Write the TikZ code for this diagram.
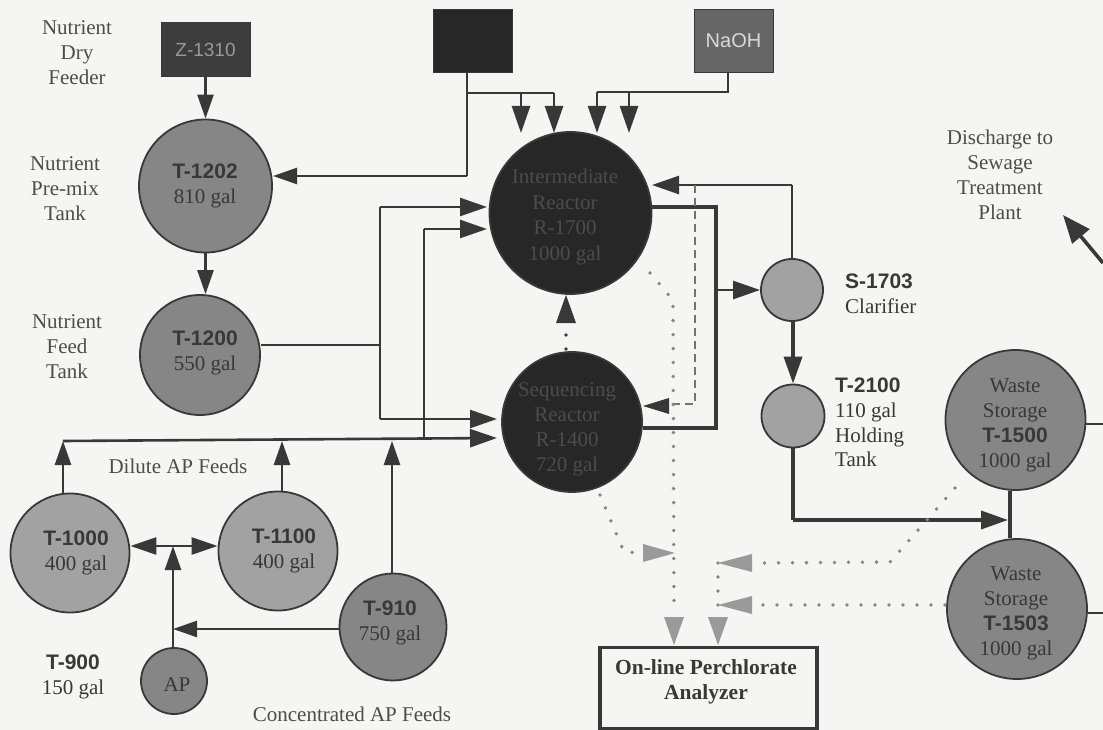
\documentclass[tikz,border=0pt]{standalone}
\usepackage{fontspec}
\setmainfont{Liberation Serif}
\newfontfamily\headfont{Liberation Sans}
\usetikzlibrary{arrows.meta,positioning}
\definecolor{paper}{HTML}{F5F5F3}
\definecolor{ink}{HTML}{383838}
\definecolor{midgray}{HTML}{868686}
\definecolor{lightgray}{HTML}{A2A2A2}
\definecolor{darktank}{HTML}{272727}
\definecolor{sensor}{HTML}{9A9A9A}
\definecolor{sensordot}{HTML}{858585}
\newcommand{\tk}[1]{{\headfont\bfseries\fontsize{21}{25}\selectfont #1}}
\tikzset{
  every node/.style={text=ink},
  tank/.style={circle,draw=ink,line width=1.8pt,inner sep=0pt,fill=lightgray},
  midtank/.style={tank,fill=midgray},
  reactor/.style={tank,fill=darktank},
  feedbox/.style={rectangle,draw=ink,line width=1pt,inner sep=0pt},
  lab/.style={align=center,inner sep=0pt,font=\fontsize{21}{25}\selectfont},
  leftlab/.style={align=left,inner sep=0pt,anchor=west,font=\fontsize{21}{25}\selectfont},
  dimlab/.style={lab,text=black!70},
  pipe/.style={draw=ink,line width=2.6pt},
  heavy/.style={draw=ink,line width=3.6pt},
  hd/.style={-{Triangle[length=27pt,width=18pt]}},
  hdsmall/.style={-{Triangle[length=24pt,width=16pt]}},
  probe/.style={draw=sensordot,line width=3.8pt,line cap=round,dash pattern=on 0pt off 14pt},
  tankdash/.style={draw=black!55,line width=2.6pt,dash pattern=on 8pt off 5pt}
}
\begin{document}
\begin{tikzpicture}[x=1pt,y=-1pt]
\useasboundingbox (0,0) rectangle (1103,730);
\fill[paper] (0,0) rectangle (1103,730);

% tanks
\node[midtank,minimum size=133pt] (t1202) at (205.5,186) {};
\node[midtank,minimum size=120pt] (t1200) at (200,355) {};
\node[reactor,minimum size=162pt] (r1) at (570.5,213) {};
\node[reactor,minimum size=140pt] (r2) at (572,422) {};
\node[tank,minimum size=62pt] (s1703) at (792,290) {};
\node[tank,minimum size=63pt] (t2100) at (793,416) {};
\node[midtank,minimum size=140pt] (t1500) at (1015.5,420) {};
\node[midtank,minimum size=140pt] (t1503) at (1017,609) {};
\node[tank,minimum size=119pt] (t1000) at (70,553) {};
\node[tank,minimum size=119pt] (t1100) at (278,551) {};
\node[midtank,minimum size=107pt] (t910) at (393,627) {};
\node[midtank,minimum size=66pt] (ap) at (174,681) {};

% feeders
\node[feedbox,fill=darktank!90!white,minimum width=89pt,minimum height=54pt,text=black!40,font=\headfont\fontsize{19}{20}\selectfont] (z1310) at (205.5,50) {Z-1310};
\node[feedbox,fill=darktank,minimum width=79pt,minimum height=63pt] (acid) at (472.5,41.5) {};
\node[feedbox,fill=black!60,minimum width=79pt,minimum height=63pt,text=black!15,font=\headfont\fontsize{20}{20}\selectfont] (naoh) at (733.5,41) {NaOH};
\node[rectangle,draw=ink,line width=3.2pt,fill=paper,minimum width=217pt,minimum height=81pt,inner sep=0pt] (analyzer) at (708.5,688) {};
\node[align=center,inner sep=0pt,font=\bfseries\fontsize{21.5}{25}\selectfont] (analyzerlab) at (706,682) {On-line Perchlorate\\Analyzer};

% free labels
\node[dimlab] (l1) at (77,53) {Nutrient\\Dry\\Feeder};
\node[dimlab] (l2) at (65,189) {Nutrient\\Pre-mix\\Tank};
\node[dimlab] (l3) at (67,347) {Nutrient\\Feed\\Tank};
\node[dimlab] (l4) at (1000,174.5) {Discharge to\\Sewage\\Treatment\\Plant};
\node[lab] (tl1202) at (205,185.5) {\tk{T-1202}\\810 gal};
\node[lab] (tl1200) at (205,353) {\tk{T-1200}\\550 gal};
\node[lab] (tl1000) at (76,552.5) {\tk{T-1000}\\400 gal};
\node[lab] (tl1100) at (284,551) {\tk{T-1100}\\400 gal};
\node[lab] (tl910) at (390,623) {\tk{T-910}\\750 gal};
\node[lab] (tl900) at (73,677) {\tk{T-900}\\150 gal};
\node[lab] (tlap) at (177,685) {AP};
\node[dimlab] (ldil) at (178,466) {Dilute AP Feeds};
\node[dimlab] (lcon) at (352,714) {Concentrated AP Feeds};
\node[leftlab,anchor=north west,font=\fontsize{21}{24.5}\selectfont] (ls) at (845,274) {\tk{S-1703}\\Clarifier};
\node[leftlab,anchor=north west,font=\fontsize{21}{24.7}\selectfont] (lt) at (835,378) {\tk{T-2100}\\110 gal\\Holding\\Tank};
\node[lab] (tl1500) at (1015,425.5) {Waste\\Storage\\\tk{T-1500}\\1000 gal};
\node[lab] (tl1503) at (1016,613.5) {Waste\\Storage\\\tk{T-1503}\\1000 gal};
\node[lab,text=black!70,font=\fontsize{21}{25.5}\selectfont] (tlr1) at (565,217) {Intermediate\\Reactor\\R-1700\\1000 gal};
\node[lab,text=black!70,font=\fontsize{21}{25}\selectfont] (tlr2) at (567,429.5) {Sequencing\\Reactor\\R-1400\\720 gal};

% junctions and free ends
\coordinate (j-acid) at (467,93);
\coordinate (j-acid2) at (521,93);
\coordinate (j-acid3) at (554,93);
\coordinate (e-acid2) at (521,133);
\coordinate (e-acid3) at (554,133);
\coordinate (j-naoh) at (728,92);
\coordinate (j-naoh2) at (629,92);
\coordinate (j-naoh3) at (597,92);
\coordinate (e-naoh2) at (629,133);
\coordinate (e-naoh3) at (597,133);
\coordinate (j-acid4) at (467,176);
\coordinate (e-1202) at (273,176);
\coordinate (j-nf) at (380,345);
\coordinate (j-nft) at (380,207);
\coordinate (j-nfb) at (380,419);
\coordinate (e-nft) at (487,207);
\coordinate (e-nfb) at (497,419);
\coordinate (j-main0) at (63,441);
\coordinate (e-main) at (497,438);
\coordinate (j-mainup) at (424,438);
\coordinate (j-mainupt) at (424,229);
\coordinate (e-mainup) at (487,229);
\coordinate (j-cross) at (173,546);
\coordinate (j-ap) at (173,629);
\coordinate (e-1100) at (282,441);
\coordinate (e-910) at (392,441);
\coordinate (j-r1a) at (716,207);
\coordinate (j-r1b) at (716,428);
\coordinate (j-r1c) at (716,290);
\coordinate (j-ret) at (792,185);
\coordinate (e-ret) at (652,185);
\coordinate (j-w) at (793,520);
\coordinate (e-w) at (1008,520);
\coordinate (j-wv) at (1010,520);
\coordinate (e1500) at (1103,424);
\coordinate (e1503) at (1103,613);
\coordinate (d0) at (1103,263);
\coordinate (d1) at (1063,215);
\coordinate (dash0) at (695,185);
\coordinate (dash1) at (695,404);
\coordinate (dash2) at (660,404);
\coordinate (q0) at (650,273);
\coordinate (q1) at (673,300);
\coordinate (q2) at (674,612);
\coordinate (p0) at (600,495);
\coordinate (p1) at (624,552);
\coordinate (p2) at (643,553);
\coordinate (p3) at (675,553);
\coordinate (w0) at (955,488);
\coordinate (w1) at (890,562);
\coordinate (w2) at (758,563);
\coordinate (w3) at (718,563);
\coordinate (w4) at (945,605);
\coordinate (w5) at (758,605);
\coordinate (w6) at (718,605);
\coordinate (w7) at (718,612);
\coordinate (a1) at (674,645);
\coordinate (a2) at (718,645);
\coordinate (rc0) at (566,349);
\coordinate (rc1) at (566,334);

% acid and base feeds
\draw[pipe] (acid.south -| j-acid) -- (j-acid4);
\draw[pipe,hdsmall] (j-acid4) -- (e-1202);
\draw[pipe] (j-acid) -- (j-acid3);
\draw[pipe,hd] (j-acid2) -- (e-acid2);
\draw[pipe,hd] (j-acid3) -- (e-acid3);
\draw[pipe] (naoh.south -| j-naoh) -- (j-naoh) -- (j-naoh3);
\draw[pipe,hd] (j-naoh2) -- (e-naoh2);
\draw[pipe,hd] (j-naoh3) -- (e-naoh3);
\draw[pipe,hdsmall] (z1310.south) -- (t1202.north);
\draw[pipe,hdsmall] (t1202.south) -- (t1202.south |- t1200.north);

% nutrient feed
\draw[pipe] (t1200.east |- j-nf) -- (j-nf);
\draw[pipe,hd] (j-nft) -- (e-nft);
\draw[pipe] (j-nft) -- (j-nfb);
\draw[pipe,hd] (j-nfb) -- (e-nfb);

% AP feeds
\draw[pipe,hd] (j-main0) -- (e-main);
\draw[pipe,hdsmall] (t1000.north -| j-main0) -- (j-main0);
\draw[pipe,hdsmall] (t1100.north -| e-1100) -- (e-1100);
\draw[pipe,hdsmall] (t910.north -| e-910) -- (e-910);
\draw[pipe] (j-mainup) -- (j-mainupt);
\draw[pipe,hd] (j-mainupt) -- (e-mainup);
\draw[pipe,{Triangle[length=26pt,width=17pt]}-{Triangle[length=26pt,width=17pt]}] (t1000.east |- j-cross) -- (t1100.west |- j-cross);
\draw[pipe,hdsmall] (ap.north -| j-cross) -- (j-cross);
\draw[pipe,hdsmall] (t910.west |- j-ap) -- (j-ap);

% reactor train
\draw[heavy] (r1.east |- j-r1a) -- (j-r1a) -- (j-r1b) -- (r2.east |- j-r1b);
\draw[pipe,hd] (j-r1c) -- (s1703.west);
\draw[pipe] (s1703.north) -- (j-ret);
\draw[pipe,hd] (j-ret) -- (e-ret);
\draw[heavy,hd] (t2100.north |- s1703.south) -- (t2100.north);
\draw[heavy] (t2100.south) -- (j-w);
\draw[heavy,hd] (j-w) -- (e-w);
\draw[heavy] (j-wv |- t1500.south) -- (j-wv |- t1503.north);
\draw[pipe] (t1500.east |- e1500) -- (e1500);
\draw[pipe] (t1503.east |- e1503) -- (e1503);
\draw[heavy,-{Triangle[length=28pt,width=22pt]}] (d0) -- (d1);

% reactor recycle, dotted and dashed
\draw[probe,draw=ink] (rc0) -- (rc1);
\fill[ink] (r1.south -| rc0) -- (576,323) -- (556,323) -- cycle;
\draw[tankdash] (dash0) -- (dash1) -- (dash2);
\fill[ink] (643,406) -- (669,398) -- (669,414) -- cycle;

% sample lines
\draw[probe] (q0) -- (q1) -- (q2);
\draw[probe] (p0) -- (p1) -- (p2);
\draw[probe] (w0) -- (w1) -- (w2);
\draw[probe] (w4) -- (w5);
\draw[probe] (w3) -- (w7);
\fill[sensor] (p3) -- (643,544) -- (643,562) -- cycle;
\fill[sensor] (w3) -- (752,554) -- (752,572) -- cycle;
\fill[sensor] (w6) -- (752,596) -- (752,614) -- cycle;
\fill[sensor] (a1) -- (664,617) -- (684,617) -- cycle;
\fill[sensor] (a2) -- (708,617) -- (728,617) -- cycle;
\end{tikzpicture}
\end{document}
